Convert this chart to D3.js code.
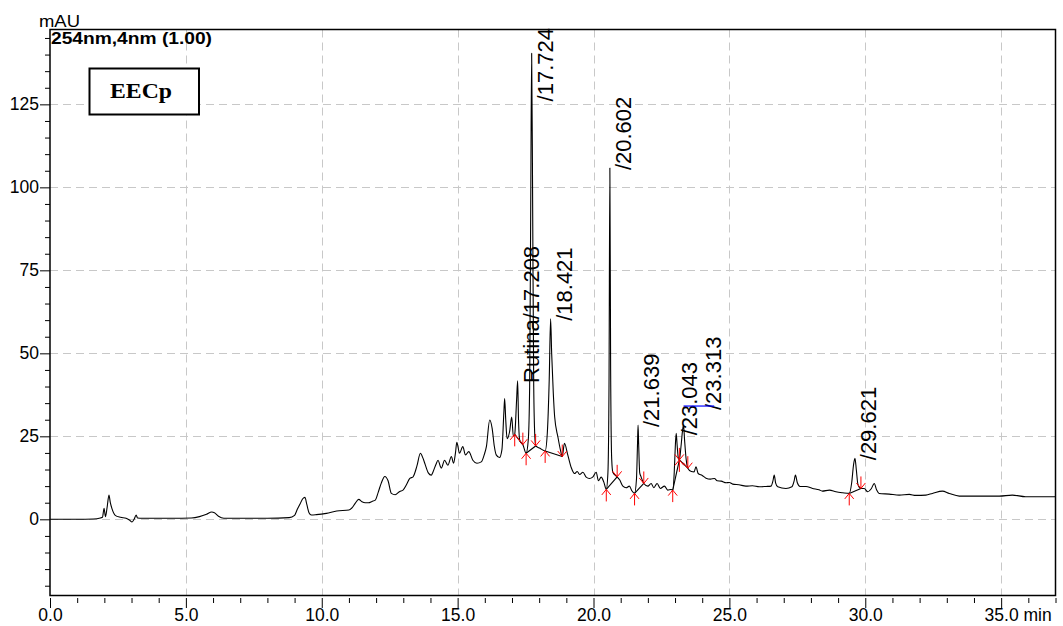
<!DOCTYPE html>
<html>
<head>
<meta charset="utf-8">
<script src="https://cdn.jsdelivr.net/npm/d3@7"></script>
<style>
  html, body { margin: 0; padding: 0; background: #fff; }
  svg { display: block; }
  text { font-family: "Liberation Sans", Arial, sans-serif; }
</style>
</head>
<body>
<svg id="chart" width="1063" height="626"></svg>
<script>
// Chromatogram trace: retention time (min) and absorbance (mAU) at 254 nm
const times = [
  0, 1.0, 1.6, 1.85, 1.93, 1.99, 2.04, 2.1, 2.17, 2.22, 2.28, 2.4, 2.6, 2.8, 2.92, 3.02, 3.1, 3.17, 3.22, 3.4,
  4.5, 5.2, 5.5, 5.76, 5.95, 6.05, 6.2, 6.4, 8.0, 8.8, 9.0, 9.1, 9.2, 9.3, 9.38, 9.45, 9.53, 9.62, 9.8, 10.17,
  10.55, 11.0, 11.12, 11.23, 11.36, 11.48, 11.6, 11.72, 11.85, 11.97, 12.08, 12.19, 12.32, 12.44, 12.56, 12.7, 12.87, 12.99, 13.12, 13.24,
  13.36, 13.5, 13.63, 13.72, 13.79, 13.92, 14.03, 14.09, 14.2, 14.28, 14.36, 14.4, 14.52, 14.64, 14.77, 14.85, 14.92, 14.97, 15.07, 15.19,
  15.29, 15.41, 15.56, 15.71, 15.87, 15.98, 16.06, 16.18, 16.27, 16.35, 16.42, 16.54, 16.63, 16.7, 16.73, 16.77, 16.82, 16.91, 16.99, 17.05,
  17.1, 17.17, 17.208, 17.24, 17.29, 17.4, 17.52, 17.6, 17.65, 17.69, 17.724, 17.76, 17.8, 17.84, 17.87, 18.03, 18.22, 18.3, 18.37, 18.421,
  18.46, 18.52, 18.57, 18.69, 18.78, 18.85, 18.93, 19.05, 19.18, 19.3, 19.4, 19.49, 19.61, 19.73, 19.85, 19.97, 20.1, 20.18, 20.28, 20.38,
  20.47, 20.53, 20.57, 20.602, 20.63, 20.67, 20.71, 20.87, 20.96, 21.08, 21.2, 21.32, 21.41, 21.51, 21.58, 21.62, 21.639, 21.66, 21.7, 21.75,
  21.85, 22.0, 22.12, 22.22, 22.34, 22.46, 22.61, 22.73, 22.85, 22.915, 22.97, 23.01, 23.043, 23.08, 23.12, 23.16, 23.22, 23.28, 23.313, 23.35,
  23.41, 23.47, 23.6, 23.7, 23.77, 23.85, 24.0, 24.14, 24.3, 24.45, 24.55, 24.7, 24.88, 25.0, 25.12, 25.35, 25.61, 25.85, 26.1, 26.35,
  26.53, 26.6, 26.65, 26.7, 26.78, 27.08, 27.3, 27.38, 27.43, 27.5, 27.6, 27.82, 28.06, 28.3, 28.42, 28.68, 28.92, 29.17, 29.41, 29.5,
  29.57, 29.621, 29.67, 29.73, 29.84, 29.96, 30.09, 30.22, 30.33, 30.42, 30.51, 30.88, 31.25, 31.62, 31.86, 32.23, 32.47, 32.84, 33.09, 33.46,
  34.07, 34.93, 35.41, 35.9, 37.0
];
const signal = [
  0, 0, 0.1, 0.4, 0.6, 3.3, 0.8, 3.5, 7.3, 5.0, 3.2, 1.2, 0.6, 0.3, -0.2, -0.8, 0.1, 1.3, 0.4, 0.3,
  0.3, 0.4, 0.8, 1.5, 2.2, 2.0, 0.9, 0.3, 0.3, 0.5, 1.2, 3.0, 4.6, 6.2, 6.6, 4.5, 2.0, 1.3, 1.4, 1.8,
  2.5, 2.8, 3.5, 4.8, 6.0, 5.3, 5.0, 5.0, 5.4, 5.8, 8.2, 10.9, 12.9, 11.6, 7.8, 7.4, 8.4, 8.8, 10.5, 12.3,
  12.8, 16.0, 19.9, 18.5, 16.9, 14.0, 13.3, 14.2, 16.5, 17.8, 16.0, 15.4, 17.8, 16.3, 18.9, 16.9, 20.0, 23.2, 19.9, 21.9,
  19.4, 20.4, 17.8, 16.9, 17.3, 19.5, 22.0, 29.9, 27.4, 22.0, 19.4, 18.6, 21.0, 32.0, 36.4, 30.0, 24.3, 26.3, 30.8, 25.0,
  25.6, 36.0, 41.7, 30.0, 23.6, 22.5, 19.9, 24.0, 40.0, 95.0, 140.4, 95.0, 40.0, 25.0, 22.1, 21.4, 20.6, 26.0, 42.0, 60.4,
  50.0, 38.0, 30.9, 24.8, 21.0, 18.9, 22.9, 19.5, 15.6, 13.8, 14.4, 13.5, 14.2, 12.7, 12.3, 12.7, 14.2, 11.6, 12.7, 11.2,
  9.0, 14.0, 40.0, 105.8, 45.0, 18.0, 14.2, 12.8, 11.9, 10.0, 9.5, 10.0, 8.6, 7.8, 12.0, 23.0, 28.4, 23.0, 14.0, 12.8,
  10.8, 10.0, 10.8, 9.5, 10.8, 9.3, 10.0, 8.8, 9.0, 8.8, 14.0, 22.0, 25.9, 22.0, 18.5, 17.9, 22.0, 27.0, 28.4, 24.0,
  18.0, 15.4, 14.4, 14.3, 15.8, 13.8, 13.2, 12.4, 12.1, 12.3, 11.6, 11.5, 11.0, 11.1, 10.6, 10.4, 10.0, 10.1, 9.8, 9.9,
  10.0, 11.5, 13.3, 11.0, 9.8, 9.3, 9.8, 11.5, 13.3, 11.0, 9.9, 9.9, 9.3, 8.9, 8.5, 8.8, 8.3, 8.0, 7.8, 11.0,
  16.5, 18.4, 15.0, 10.5, 9.3, 9.3, 8.3, 9.2, 10.8, 8.8, 7.8, 7.6, 7.3, 7.5, 7.2, 7.3, 7.8, 8.5, 7.8, 7.0,
  7.0, 7.0, 7.3, 6.8, 6.8
];

// Identified peaks and their integration limits (min)
const peakTimes  = [17.208, 17.724, 18.421, 20.602, 21.639, 23.043, 23.313, 29.621];
const peakLabels = ["Rutina/17.208", "/17.724", "/18.421", "/20.602", "/21.639", "/23.043", "/23.313", "/29.621"];
const startTimes = [17.1, 17.52, 18.22, 20.47, 21.51, 22.915, 23.16, 29.41];
const endTimes   = [17.4, 17.87, 18.85, 20.87, 21.85, 23.16, 23.47, 29.84];

// Axis ticks
const xTicks = [0, 5, 10, 15, 20, 25, 30, 35];
const yTicks = [0, 25, 50, 75, 100, 125];
const xUnit = "min";
const yUnit = "mAU";
const channelTitle = "254nm,4nm (1.00)";
const sampleName = "EECp";

const svg = d3.select("#chart");
const plot = { left: 50, right: 1055.5, top: 29.5, bottom: 595.5 };

const x = d3.scaleLinear().domain([0, 37]).range([plot.left, plot.right]);
const y = d3.scaleLinear().domain([-22.95, 147.55]).range([plot.bottom, plot.top]);

const trace = times.map((t, i) => ({ t, v: signal[i] }));
const valueAt = t => {
  const i = d3.bisector(d => d.t).left(trace, t);
  if (i <= 0) return trace[0].v;
  if (i >= trace.length) return trace[trace.length - 1].v;
  const a = trace[i - 1], b = trace[i];
  if (b.t === t) return b.v;
  return a.v + (b.v - a.v) * (t - a.t) / (b.t - a.t);
};

// Grid
const grid = svg.append("g").attr("stroke", "#c8c8c8").attr("stroke-width", 1)
  .attr("stroke-dasharray", "8,5").attr("fill", "none");
grid.selectAll("line.gx").data(xTicks.filter(d => d > 0)).join("line")
  .attr("x1", d => Math.round(x(d)) + 0.5).attr("x2", d => Math.round(x(d)) + 0.5)
  .attr("y1", plot.top).attr("y2", plot.bottom);
grid.selectAll("line.gy").data(yTicks).join("line")
  .attr("y1", d => Math.round(y(d)) + 0.5).attr("y2", d => Math.round(y(d)) + 0.5)
  .attr("x1", plot.left).attr("x2", plot.right);

// Y axis: major and minor ticks
const styleAxis = (g, size) => {
  g.select(".domain").remove();
  g.attr("font-family", "'Liberation Sans', Arial, sans-serif").attr("font-size", size);
  g.selectAll(".tick line").attr("stroke", "#000").attr("stroke-width", 1);
  g.selectAll(".tick text").attr("fill", "#000");
};
const yMinorTicks = d3.range(-20, 146, 5).filter(d => !yTicks.includes(d));
svg.append("g").attr("transform", `translate(${plot.left},0)`)
  .call(d3.axisLeft(y).tickValues(yMinorTicks).tickSize(5).tickFormat(""))
  .call(g => styleAxis(g, 17.5));
svg.append("g").attr("transform", `translate(${plot.left},0)`)
  .call(d3.axisLeft(y).tickValues(yTicks).tickSize(10).tickPadding(1).tickFormat(d3.format("d")))
  .call(g => styleAxis(g, 17.5));

// X axis: ticks sit just below the frame
const xMinorTicks = d3.range(0, 37.5, 1).filter(d => !xTicks.includes(d));
svg.append("g").attr("transform", `translate(0,${plot.bottom + 2.5})`)
  .call(d3.axisBottom(x).tickValues(xMinorTicks).tickSize(5).tickFormat(""))
  .call(g => styleAxis(g, 17.5));
const xAxisG = svg.append("g").attr("transform", `translate(0,${plot.bottom + 2.5})`)
  .call(d3.axisBottom(x).tickValues(xTicks).tickSize(10).tickPadding(1).tickFormat(d3.format(".1f")))
  .call(g => styleAxis(g, 17.5));
// unit after the last tick label
const lastLabel = xAxisG.selectAll(".tick text").filter(d => d === xTicks[xTicks.length - 1]);
const lastLen = lastLabel.node().getComputedTextLength();
lastLabel.attr("text-anchor", "start").attr("x", -lastLen / 2).append("tspan").text(" " + xUnit);

// Trace
svg.append("path").datum(trace)
  .attr("fill", "none").attr("stroke", "#000").attr("stroke-width", 1.1).attr("stroke-linejoin", "round")
  .attr("d", d3.line().x(d => x(d.t)).y(d => y(d.v)).curve(d3.curveMonotoneX));

// Integration baselines
svg.append("g").selectAll("line").data(peakTimes.map((p, i) => i)).join("line")
  .attr("x1", i => x(startTimes[i])).attr("y1", i => y(valueAt(startTimes[i])))
  .attr("x2", i => x(endTimes[i])).attr("y2", i => y(valueAt(endTimes[i])))
  .attr("stroke", "#000").attr("stroke-width", 1.1);

// Peak start (up arrow) and end (down arrow) markers
const markers = svg.append("g").attr("stroke", "#ff0000").attr("stroke-width", 1).attr("fill", "none");
const arrowPath = (px, py, dir) => {
  // dir = 1: tip at point, shaft below; dir = -1: tip at point, shaft above
  return `M${px},${py}L${px},${py + dir * 12}M${px - 4.5},${py + dir * 5.5}L${px},${py}L${px + 4.5},${py + dir * 5.5}`;
};
markers.selectAll("path.s").data(startTimes).join("path")
  .attr("d", t => arrowPath(x(t), y(valueAt(t)), 1));
markers.selectAll("path.e").data(endTimes).join("path")
  .attr("d", t => arrowPath(x(t), y(valueAt(t)), -1));

// Peak labels, written upward beside each apex
const labels = svg.append("g").attr("font-size", 22).attr("fill", "#000");
const placed = [];
peakTimes.forEach((t, i) => {
  const px = x(t), py = y(valueAt(t));
  const txt = labels.append("text").text(peakLabels[i]);
  const len = txt.node().getComputedTextLength();
  let bx = px + 21;
  let sy = Math.max(py + 2, plot.top - 1.5 + len);
  let shifted = false;
  placed.forEach(p => {
    const overlapY = !(sy < p.sy - p.len || sy - len > p.sy);
    if (overlapY && bx - p.bx < 24) { bx = p.bx + 24; shifted = true; }
  });
  if (shifted) {
    sy = py - 15;
    svg.append("line").attr("x1", px).attr("x2", bx - 7)
      .attr("y1", sy - 4).attr("y2", sy - 4)
      .attr("stroke", "#0000ff").attr("stroke-width", 1.2);
  }
  txt.attr("transform", `translate(${bx},${sy}) rotate(-90)`);
  placed.push({ bx, sy, len });
});

// Frame
svg.append("rect").attr("x", plot.left).attr("y", plot.top)
  .attr("width", plot.right - plot.left).attr("height", plot.bottom - plot.top)
  .attr("fill", "none").attr("stroke", "#000").attr("stroke-width", 1.5);

// Unit and channel captions
svg.append("text").attr("x", 39).attr("y", 26.7).attr("font-size", 16.5)
  .attr("textLength", 41).attr("lengthAdjust", "spacingAndGlyphs").text(yUnit);
svg.append("text").attr("x", 51).attr("y", 44).attr("font-size", 16).attr("font-weight", "bold")
  .attr("textLength", 161).attr("lengthAdjust", "spacingAndGlyphs").text(channelTitle);

// Sample name box
svg.append("rect").attr("x", 89.5).attr("y", 68.5).attr("width", 109.5).attr("height", 46)
  .attr("fill", "#fff").attr("stroke", "#000").attr("stroke-width", 2);
svg.append("text").attr("x", 110).attr("y", 98)
  .style("font-family", "'Liberation Serif', 'Times New Roman', serif")
  .attr("font-size", 20).attr("font-weight", "bold")
  .attr("textLength", 62).attr("lengthAdjust", "spacingAndGlyphs").text(sampleName);
</script>
</body>
</html>
